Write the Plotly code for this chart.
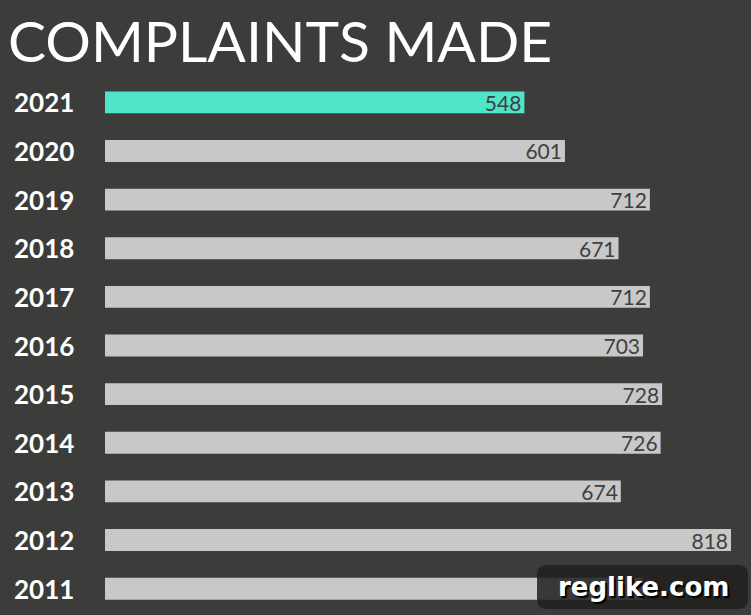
import plotly.graph_objects as go

years = ["2021", "2020", "2019", "2018", "2017", "2016", "2015", "2014", "2013", "2012", "2011"]
complaints = [548, 601, 712, 671, 712, 703, 728, 726, 674, 818, 703]
highlight_year = "2021"
covered_labels = ["2011"]  # value label hidden behind the watermark in the source

BG = "#3c3c3b"
GREY = "#c8c8c8"
TEAL = "#50e4c9"

colors = [TEAL if y == highlight_year else GREY for y in years]
n = len(years)
ypos = [n - 1 - i for i in range(n)]  # category index positions (top = first)
labels = ["" if y in covered_labels else str(v) for y, v in zip(years, complaints)]

fig = go.Figure()
fig.add_trace(go.Bar(
    x=complaints,
    y=ypos,
    orientation="h",
    marker=dict(color=colors, line=dict(width=0)),
    text=labels,
    textposition="inside",
    insidetextanchor="end",
    constraintext="none",
    textfont=dict(family="Lato", size=21, color="#3f3f3f"),
    hoverinfo="skip",
))

W, H = 751, 615
L, R, T, B = 105, 0, 78, 2
pw = W - L - R
ph = H - T - B

annotations = []
for y, p in zip(years, ypos):
    annotations.append(dict(
        x=-(L - 12) / pw, xref="paper", y=p, yref="y",
        text=y, showarrow=False, xanchor="left", yanchor="middle",
        font=dict(family="Lato", size=26, color="#ffffff", weight="bold"),
    ))
annotations.append(dict(
    x=-(L - 6) / pw, xref="paper", y=1 + (T - 40) / ph, yref="paper",
    text="COMPLAINTS MADE", showarrow=False, xanchor="left", yanchor="middle",
    font=dict(family="Lato", size=57, color="#ffffff"),
))
annotations.append(dict(
    x=(643 - L) / pw, xref="paper", y=(H - B - 587) / ph, yref="paper",
    text="<b>reglike.com</b>", showarrow=False, xanchor="center", yanchor="middle",
    font=dict(family="DejaVu Sans", size=26, color="#ffffff",
              shadow="2px 2px 1px #000000"),
))

def px(xp):
    return (xp - L) / pw
def py(yp):
    return (H - B - yp) / ph

x0, x1, y0, y1 = 537, 748, 565, 609
rx, ry = 10, 10
pts = [
    ("M", x0 + rx, y0), ("L", x1 - rx, y0), ("Q", x1, y0, x1, y0 + ry),
    ("L", x1, y1 - ry), ("Q", x1, y1, x1 - rx, y1), ("L", x0 + rx, y1),
    ("Q", x0, y1, x0, y1 - ry), ("L", x0, y0 + ry), ("Q", x0, y0, x0 + rx, y0),
]
segs = []
for p in pts:
    cmd = p[0]
    coords = p[1:]
    conv = []
    for i in range(0, len(coords), 2):
        conv.append(f"{px(coords[i]):.5f},{py(coords[i + 1]):.5f}")
    segs.append(cmd + " " + " ".join(conv))
path = " ".join(segs) + " Z"

fig.add_shape(type="path", xref="paper", yref="paper", path=path,
              fillcolor="rgba(30,30,30,0.85)", line=dict(width=0), layer="above")

fig.update_layout(
    width=W, height=H,
    margin=dict(l=L, r=R, t=T, b=B),
    paper_bgcolor=BG, plot_bgcolor=BG,
    showlegend=False,
    bargap=0.55,
    xaxis=dict(range=[0, pw / 0.7653], visible=False, fixedrange=True),
    yaxis=dict(type="linear", visible=False, showgrid=False, zeroline=False,
               range=[-0.5, n - 0.5], fixedrange=True),
    annotations=annotations,
)

fig.write_html("out.html", config={"displayModeBar": False},
               post_script="document.body.style.margin='0';document.body.style.background='%s';" % BG)
